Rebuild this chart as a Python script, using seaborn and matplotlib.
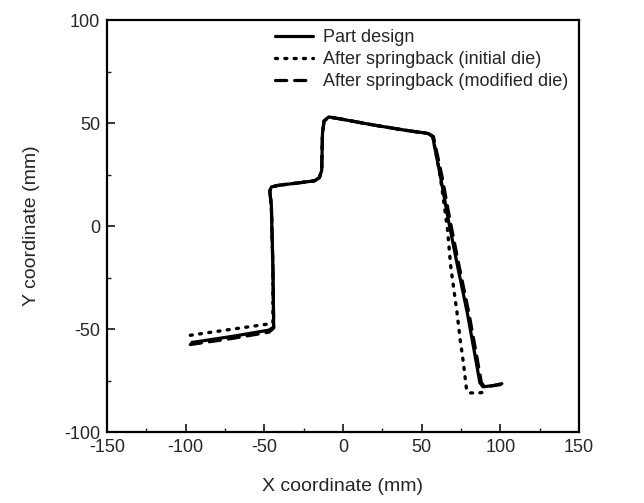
import matplotlib
matplotlib.use("Agg")
import matplotlib.pyplot as plt
import seaborn as sns
import pandas as pd
from matplotlib.ticker import MultipleLocator

# Part design profile (mm)
design_x = [-96, -70, -47, -44, -44.5, -45.5, -46.5, -45.5, -41, -28, -18, -15, -13.5,
            -13, -12, -9, 0, 20, 40, 54, 57, 62, 67, 73, 79, 84, 87, 89, 95, 101]
design_y = [-56.5, -53.5, -50.5, -49, -20, 10, 17, 19, 19.8, 21, 22, 23.5, 27,
            45, 51, 53, 51.8, 49, 46.5, 45, 43.5, 24, 3, -20, -42, -63, -76, -78, -77.5, -76.5]

# After springback, initial die
initial_x = [-97, -70, -47, -44.5, -44.5, -45.5, -46.5, -45.5, -41, -28, -18, -15, -13.5,
             -13, -12, -9, 0, 20, 40, 54, 57, 61, 63, 66.5, 68.5, 72.5, 74.5, 76.5,
             78.5, 80, 86, 92]
initial_y = [-53, -50, -47.5, -47, -20, 10, 17, 19, 19.8, 21, 22, 23.5, 27,
             45, 51, 53, 51.8, 49, 46.5, 45, 43.5, 28, 18, -2, -19.5, -42, -55, -66,
             -79, -81, -81, -80.5]

# After springback, modified die
modified_x = [-97, -70, -47, -44, -44.5, -45.5, -46.5, -45.5, -41, -28, -18, -15, -13.5,
              -13, -12, -9, 0, 20, 40, 54, 57.5, 63, 68, 74, 80, 85, 88, 90, 95, 100]
modified_y = [-57.5, -54.5, -51.5, -49.5, -20, 10, 17, 19, 19.8, 21, 22, 23.5, 27,
              45, 51, 53, 51.8, 49, 46.5, 45, 43.5, 24, 3, -20, -42, -63, -76, -78, -77.5, -77]

x_ticks = [-150, -100, -50, 0, 50, 100, 150]
y_ticks = [-100, -50, 0, 50, 100]

sns.set_style("ticks")
plt.rcParams["font.family"] = ["Liberation Sans", "DejaVu Sans"]
plt.rcParams["axes.unicode_minus"] = False

fig = plt.figure(figsize=(6.44, 5.03), dpi=100)
ax = fig.add_axes([0.166, 0.141, 0.733, 0.819])

series = [
    (design_x, design_y, "Part design", "-", 2.3),
    (initial_x, initial_y, "After springback (initial die)", (0, (0.6, 2.2)), 2.4),
    (modified_x, modified_y, "After springback (modified die)", (0, (3.5, 2.5)), 2.3),
]
for xs, ys, label, ls, lw in series:
    df = pd.DataFrame({"x": xs, "y": ys})
    sns.lineplot(data=df, x="x", y="y", sort=False, estimator=None, ax=ax,
                 color="black", linestyle=ls, linewidth=lw, label=label,
                 dash_capstyle="round")

ax.set_xlim(-150, 150)
ax.set_ylim(-100, 100)
ax.set_xticks(x_ticks)
ax.set_yticks(y_ticks)
ax.set_xticklabels([str(t) for t in x_ticks])
ax.set_yticklabels([str(t) for t in y_ticks])
ax.xaxis.set_minor_locator(MultipleLocator(25))
ax.yaxis.set_minor_locator(MultipleLocator(25))
ax.tick_params(which="major", direction="in", length=6, width=1.3, labelsize=13,
               top=False, right=False, pad=5)
ax.tick_params(which="minor", direction="in", length=3, width=1, top=False, right=False)
for sp in ax.spines.values():
    sp.set_linewidth(1.6)
    sp.set_color("black")

ax.set_xlabel("X coordinate (mm)", fontsize=14, labelpad=16)
ax.set_ylabel("Y coordinate (mm)", fontsize=14, labelpad=17)

leg = ax.legend(loc="upper right", frameon=False, fontsize=13, handlelength=2.1,
                handletextpad=0.55, labelspacing=0.28, borderaxespad=0.2,
                bbox_to_anchor=(1.0, 1.005))

fig.savefig("out.png", dpi=100)
